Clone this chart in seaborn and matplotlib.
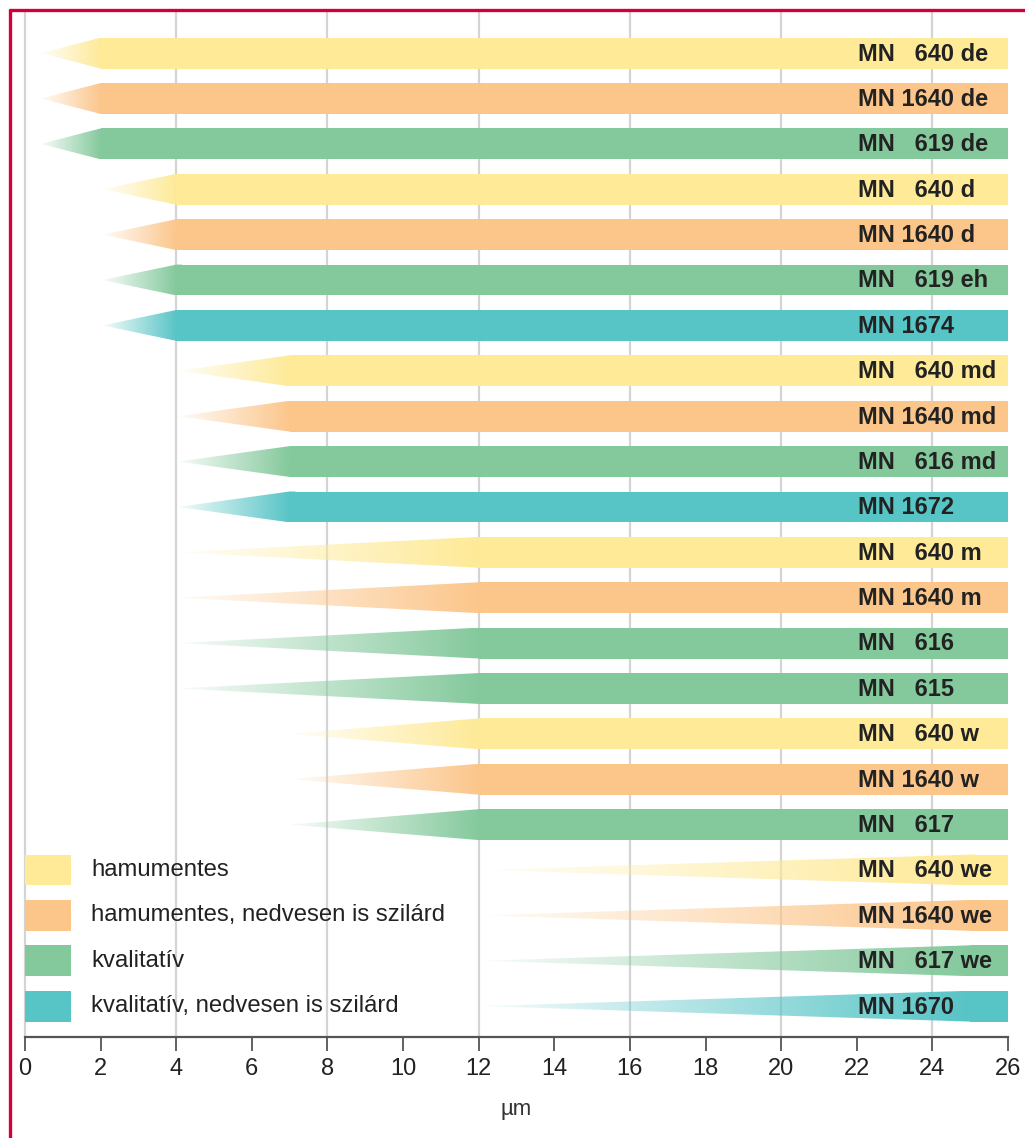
import numpy as np
import seaborn as sns
import matplotlib.pyplot as plt
from matplotlib.patches import Polygon, Rectangle
from matplotlib.lines import Line2D
from matplotlib.colors import to_rgb

# papers, top to bottom
names = ["MN \u2007640 de", "MN 1640 de", "MN \u2007619 de",
         "MN \u2007640 d", "MN 1640 d", "MN \u2007619 eh", "MN 1674",
         "MN \u2007640 md", "MN 1640 md", "MN \u2007616 md", "MN 1672",
         "MN \u2007640 m", "MN 1640 m", "MN \u2007616", "MN \u2007615",
         "MN \u2007640 w", "MN 1640 w", "MN \u2007617",
         "MN \u2007640 we", "MN 1640 we", "MN \u2007617 we", "MN 1670"]
groups = [0, 1, 2, 0, 1, 2, 3, 0, 1, 2, 3, 0, 1, 2, 2, 0, 1, 2, 0, 1, 2, 3]
# pore size range in µm: tip of the arrow, start of full bar, end
tip = [0.42, 0.42, 0.42, 2.05, 2.05, 2.05, 2.05, 4.05, 4.05, 4.05, 4.05,
       4.05, 4.05, 4.05, 4.05, 7.0, 7.0, 7.0, 12.1, 12.1, 12.1, 12.1]
shoulder = [2, 2, 2, 4, 4, 4, 4, 7, 7, 7, 7, 12, 12, 12, 12, 12, 12, 12,
            25, 25, 25, 25]
x_end = 26

group_names = ["hamumentes", "hamumentes, nedvesen is szilárd",
               "kvalitatív", "kvalitatív, nedvesen is szilárd"]
palette = sns.color_palette(["#feea97", "#fcc68b", "#84c99c", "#57c4c6"])

grid_x = [0, 4, 8, 12, 16, 20, 24]
ticks_x = list(range(0, 27, 2))

sns.set_theme(style="white")
plt.rcParams['font.family'] = ['Liberation Sans', 'DejaVu Sans']

fig = plt.figure(figsize=(10.25, 11.38), dpi=100)
ax = fig.add_axes([25 / 1025, 101 / 1138, 983 / 1025, 1027 / 1138])

h = 0.68
for gx in grid_x:
    ax.axvline(gx, color="#d4d4d4", lw=1.6, zorder=0, clip_on=False)

for i, (t, s, g) in enumerate(zip(tip, shoulder, groups)):
    col = palette[g]
    # full part of the bar, drawn over the end of the fading tip
    ax.barh(i, x_end - s, left=s, height=h, color=col, lw=0, zorder=3)
    # tapered, fading tip (slightly overlapping the bar to avoid a seam)
    ov = 0.15
    tri = Polygon([(t, i), (s, i - h / 2), (s + ov, i - h / 2),
                   (s + ov, i + h / 2), (s, i + h / 2)], closed=True,
                  facecolor="none", edgecolor="none", transform=ax.transData)
    ax.add_patch(tri)
    n = 256
    xs = np.linspace(t, s + ov, n)
    img = np.zeros((1, n, 4))
    img[..., :3] = to_rgb(col)
    img[0, :, 3] = np.clip(0.06 + 0.94 * (xs - t) / (s - t), 0, 1)
    im = ax.imshow(img, extent=[t, s + ov, i + h / 2, i - h / 2],
                   aspect="auto", interpolation="bilinear", zorder=2)
    im.set_clip_path(tri)
    ax.text(22.02, i + 0.02, names[i], ha="left", va="center",
            fontsize=17, fontweight="bold", color="#222222", zorder=4)

# legend drawn in the empty lower-left rows
for k, lab in enumerate(group_names):
    row = 18 + k
    ax.add_patch(Rectangle((0, row - h / 2), 1.22, h, color=palette[k],
                           lw=0, zorder=2))
    ax.text(1.75, row, lab, ha="left", va="center", fontsize=17.2,
            color="#222222", zorder=4)

ax.set_xlim(0, 26)
ax.set_ylim(21.68, -0.95)
ax.set_yticks([])
ax.set_xticks(ticks_x)
ax.tick_params(axis="x", direction="out", length=10, width=1.3,
               color="#555555", labelsize=17, labelcolor="#222222", pad=5,
               bottom=True)
for side in ["top", "left", "right"]:
    ax.spines[side].set_visible(False)
ax.spines["bottom"].set_color("#555555")
ax.spines["bottom"].set_linewidth(1.6)
ax.set_xlabel("µm", fontsize=16, color="#333333", labelpad=14)

# red frame on the left and top
fig.add_artist(Line2D([9.5 / 1025, 9.5 / 1025], [0, 1 - 9.5 / 1138],
                      color="#d0003c", lw=2.4, transform=fig.transFigure))
fig.add_artist(Line2D([9.5 / 1025, 1], [1 - 9.5 / 1138, 1 - 9.5 / 1138],
                      color="#d0003c", lw=2.4, transform=fig.transFigure))

fig.savefig("out.png", dpi=100)
